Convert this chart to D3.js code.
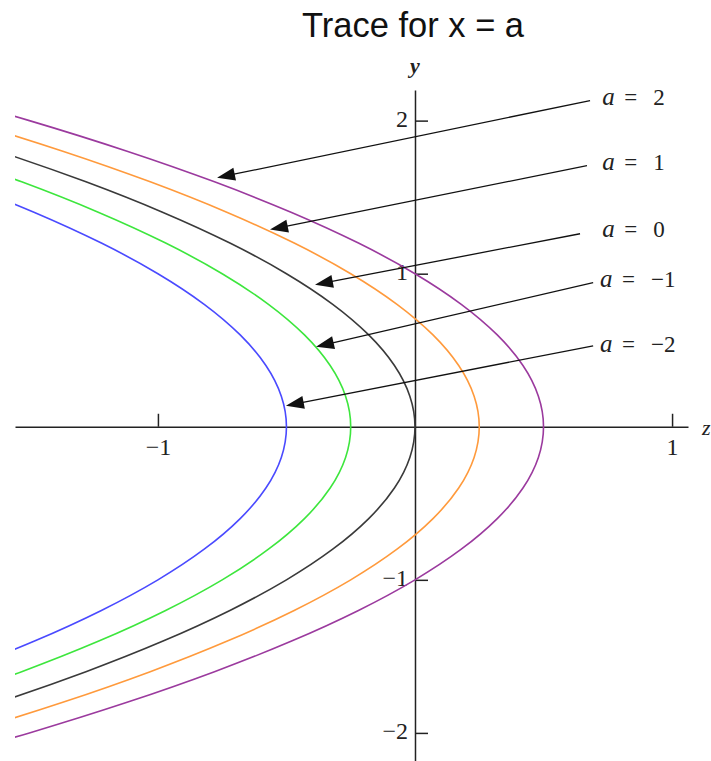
<!DOCTYPE html>
<html>
<head>
<meta charset="utf-8">
<script src="https://cdn.jsdelivr.net/npm/d3@7"></script>
<style>
  html, body { margin: 0; padding: 0; background: #fff; }
  svg { display: block; }
</style>
</head>
<body>
<svg id="chart" width="711" height="761"></svg>
<script>
// Traces of the surface in the (z, y) plane for fixed x = a.
const aValues = [2, 1, 0, -1, -2];
const aLabels = ["2", "1", "0", "\u22121", "\u22122"];

// Sampled y positions shared by all traces.
const yGrid = [-2.2, -2.0, -1.8, -1.6, -1.4, -1.2, -1.0, -0.8, -0.6, -0.4, -0.2, 0,
               0.2, 0.4, 0.6, 0.8, 1.0, 1.2, 1.4, 1.6, 1.8, 2.0, 2.2];

// z value of each trace at the y positions above.
const zA2  = [-1.92, -1.5, -1.12, -0.78, -0.48, -0.22, 0, 0.18, 0.32, 0.42, 0.48, 0.5,
              0.48, 0.42, 0.32, 0.18, 0, -0.22, -0.48, -0.78, -1.12, -1.5, -1.92];
const zA1  = [-2.17, -1.75, -1.37, -1.03, -0.73, -0.47, -0.25, -0.07, 0.07, 0.17, 0.23, 0.25,
              0.23, 0.17, 0.07, -0.07, -0.25, -0.47, -0.73, -1.03, -1.37, -1.75, -2.17];
const zA0  = [-2.42, -2.0, -1.62, -1.28, -0.98, -0.72, -0.5, -0.32, -0.18, -0.08, -0.02, 0,
              -0.02, -0.08, -0.18, -0.32, -0.5, -0.72, -0.98, -1.28, -1.62, -2.0, -2.42];
const zAm1 = [-2.67, -2.25, -1.87, -1.53, -1.23, -0.97, -0.75, -0.57, -0.43, -0.33, -0.27, -0.25,
              -0.27, -0.33, -0.43, -0.57, -0.75, -0.97, -1.23, -1.53, -1.87, -2.25, -2.67];
const zAm2 = [-2.92, -2.5, -2.12, -1.78, -1.48, -1.22, -1.0, -0.82, -0.68, -0.58, -0.52, -0.5,
              -0.52, -0.58, -0.68, -0.82, -1.0, -1.22, -1.48, -1.78, -2.12, -2.5, -2.92];
const traceZ = [zA2, zA1, zA0, zAm1, zAm2];
const traceColors = ["#9b3a9e", "#ff9a3c", "#3a3a3a", "#3de63d", "#4a4aff"];

// Callouts: where each arrow points (on its trace), where it starts, and where its label sits.
const tipZ   = [-0.770, -0.564, -0.389, -0.385, -0.502];
const tipY   = [1.627, 1.288, 0.928, 0.523, 0.137];
const startZ = [0.681, 0.669, 0.642, 0.693, 0.693];
const startY = [2.131, 1.706, 1.261, 0.941, 0.529];
const labelZ = [0.728, 0.728, 0.728, 0.720, 0.720];
const labelY = [2.105, 1.680, 1.242, 0.915, 0.490];

// Axis ticks.
const zTicks = [-1, 1];
const yTicks = [-2, -1, 1, 2];

const W = 711, H = 761;
const svg = d3.select("#chart");

const x = d3.scaleLinear().domain([-1.556, 1.062]).range([15, 688]);
const y = d3.scaleLinear().domain([-2.19, 2.2]).range([762, 90]);

svg.append("text")
  .attr("x", 413).attr("y", 37)
  .attr("text-anchor", "middle")
  .attr("font-family", "'Liberation Sans', Arial, sans-serif")
  .attr("font-size", 34.5)
  .attr("fill", "#111")
  .text("Trace for x = a");

const defs = svg.append("defs");
defs.append("clipPath").attr("id", "plotClip")
  .append("rect").attr("x", 15).attr("y", 0).attr("width", W - 15).attr("height", H);

// Axes through the origin, ticks on the inside, labels outside.
const tickFont = "'Liberation Serif', 'Times New Roman', serif";
const xAxis = d3.axisBottom(x).tickValues(zTicks).tickSizeInner(-13).tickSizeOuter(0).tickPadding(11)
  .tickFormat(d3.format("d"));
const yAxis = d3.axisLeft(y).tickValues(yTicks).tickSizeInner(-13).tickSizeOuter(0).tickPadding(7)
  .tickFormat(d3.format("d"));

const gx = svg.append("g").attr("transform", `translate(0,${y(0)})`).call(xAxis);
const gy = svg.append("g").attr("transform", `translate(${x(0)},0)`).call(yAxis);
[gx, gy].forEach(g => {
  g.selectAll("path, line").attr("stroke", "#222").attr("stroke-width", 1.5);
  g.selectAll("text").attr("font-family", tickFont).attr("font-size", 24).attr("fill", "#222");
});
gy.selectAll("text").attr("dy", "0.25em");

svg.append("text")
  .attr("x", x(0)).attr("y", 73)
  .attr("text-anchor", "middle")
  .attr("font-family", tickFont).attr("font-style", "italic").attr("font-weight", "bold")
  .attr("font-size", 22).attr("fill", "#222")
  .text("y");
svg.append("text")
  .attr("x", 702).attr("y", 435)
  .attr("font-family", tickFont).attr("font-style", "italic")
  .attr("font-size", 22).attr("fill", "#222")
  .text("z");

// Trace curves.
const line = d3.line()
  .x(d => x(d[0]))
  .y(d => y(d[1]))
  .curve(d3.curveMonotoneY);

const curves = svg.append("g").attr("clip-path", "url(#plotClip)");
traceZ.forEach((zs, i) => {
  const pts = zs.map((z, j) => [z, yGrid[j]]);
  curves.append("path")
    .datum(pts)
    .attr("d", line)
    .attr("fill", "none")
    .attr("stroke", traceColors[i])
    .attr("stroke-width", 1.6);
});

// Callout arrows and labels.
const headLen = 18, headHalf = 6.5;
const callouts = svg.append("g");
aValues.forEach((a, i) => {
  const x0 = x(startZ[i]), y0 = y(startY[i]);
  const x1 = x(tipZ[i]), y1 = y(tipY[i]);
  const dx = x1 - x0, dy = y1 - y0, len = Math.hypot(dx, dy);
  const ux = dx / len, uy = dy / len;
  const bx = x1 - ux * headLen, by = y1 - uy * headLen;
  callouts.append("line")
    .attr("x1", x0).attr("y1", y0).attr("x2", bx + ux * 2).attr("y2", by + uy * 2)
    .attr("stroke", "#111").attr("stroke-width", 1.3);
  callouts.append("path")
    .attr("d", `M${x1},${y1}L${bx - uy * headHalf},${by + ux * headHalf}L${bx + uy * headHalf},${by - ux * headHalf}Z`)
    .attr("fill", "#111");

  const lx = x(labelZ[i]), ly = y(labelY[i]);
  const t = callouts.append("g")
    .attr("font-family", tickFont).attr("font-size", 23).attr("fill", "#222");
  t.append("text").attr("x", lx).attr("y", ly).attr("font-style", "italic").attr("font-size", 25).text("a");
  t.append("text").attr("x", lx + 22).attr("y", ly).text("=");
  t.append("text").attr("x", lx + 51).attr("y", ly).text(aLabels[i]);
});
</script>
</body>
</html>
